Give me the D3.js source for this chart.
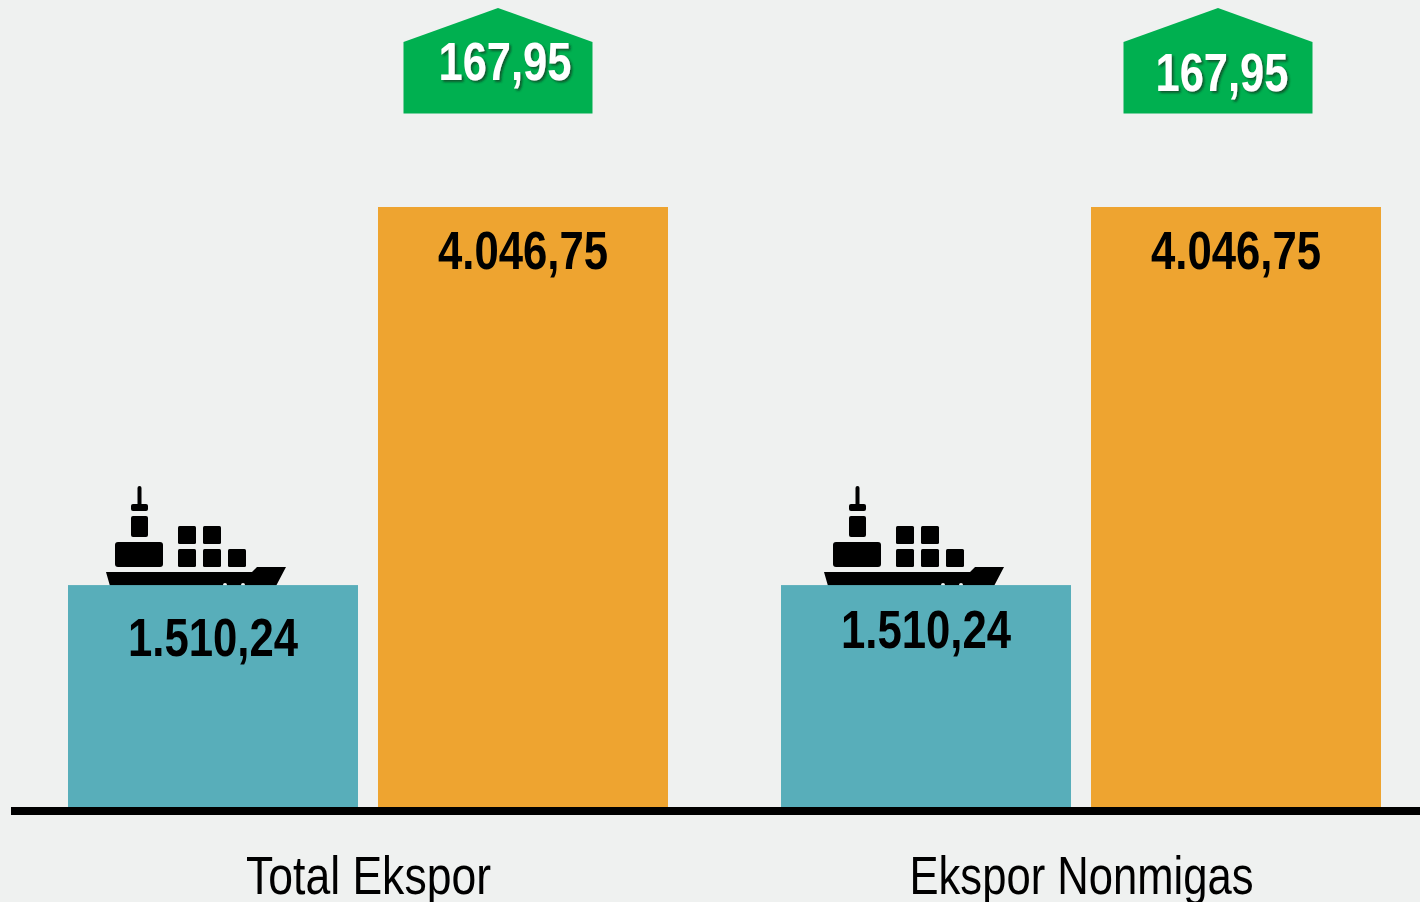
<!DOCTYPE html>
<html>
<head>
<meta charset="utf-8">
<script src="https://cdn.jsdelivr.net/npm/d3@7"></script>
<style>
   html, body { margin: 0; padding: 0; background: #eff1f0; }
   svg { display: block; }
   text { font-family: "Liberation Sans", sans-serif; }
</style>
</head>
<body>
<svg id="chart"></svg>
<script>
"use strict";

const categories = ['Total Ekspor', 'Ekspor Nonmigas']
const series = ['first', 'second']
const first_values = [1510.24, 1510.24]
const second_values = [4046.75, 4046.75]
const change_values = [167.95, 167.95]

const width = 1420
const height = 902
const base_y = 807
const bg = '#eff1f0'

// the labels don't sit at the same height in both panels
const first_label_y = [656, 648]
const change_label_y = [80, 91]
const change_label_dx = [7, 4]
const ship_dx = [38, 43]

// no narrow font on the box, so text gets squeezed to the original width
const value_label_w = 170
const change_label_w = 133
const cat_label_w = [245, 344]

const id_format = d3.formatLocale({
   decimal: ',', thousands: '.', grouping: [3], currency: ['', '']
}).format(',.2f')

const svg = d3.select('#chart')
   .attr('width', width)
   .attr('height', height)

const defs = svg.append('defs')
const shadow = defs.append('filter')
   .attr('id', 'shadow')
   .attr('x', '-10%').attr('y', '-10%')
   .attr('width', '120%').attr('height', '130%')
shadow.append('feDropShadow')
   .attr('dx', 2)
   .attr('dy', 2)
   .attr('stdDeviation', 1)
   .attr('flood-color', '#0b3d22')
   .attr('flood-opacity', 0.75)

const x_group = d3.scaleBand()
   .domain(categories)
   .range([68, 1381])
   .paddingInner(0.1585)

const x_bar = d3.scaleBand()
   .domain(series)
   .range([0, x_group.bandwidth()])
   .paddingInner(0.0645)

const y = d3.scaleLinear()
   .domain([0, 4046.75])
   .range([base_y, 207])

function draw_ship(g) {
   g.append('rect').attr('x', 31.5).attr('y', 486).attr('width', 4).attr('height', 20).attr('rx', 2)
   g.append('rect').attr('x', 25).attr('y', 504).attr('width', 17).attr('height', 7).attr('rx', 2)
   g.append('rect').attr('x', 25).attr('y', 516).attr('width', 17).attr('height', 21).attr('rx', 2)
   g.append('rect').attr('x', 9).attr('y', 542).attr('width', 48).attr('height', 25).attr('rx', 3)
   const boxes = [[72, 526], [97, 526], [72, 549], [97, 549], [122, 549]]
   g.selectAll('rect.box')
      .data(boxes)
      .enter().append('rect')
         .attr('class', 'box')
         .attr('x', d => d[0])
         .attr('y', d => d[1])
         .attr('width', 18)
         .attr('height', 18)
         .attr('rx', 1.5)
   g.append('path')
      .attr('d', 'M0,572 L146,572 L151,567 L180,567 L170,586 L4,586 Z')
   g.selectAll('circle')
      .data([119, 137])
      .enter().append('circle')
         .attr('cx', d => d)
         .attr('cy', 585)
         .attr('r', 2)
         .attr('fill', bg)
}

function bold_label(g, x, ypos, w, txt, fill) {
   return g.append('text')
      .attr('x', x)
      .attr('y', ypos)
      .attr('text-anchor', 'middle')
      .attr('font-size', 53)
      .attr('font-weight', 'bold')
      .attr('textLength', w)
      .attr('lengthAdjust', 'spacingAndGlyphs')
      .attr('fill', fill)
      .text(txt)
}

categories.forEach((cat, i) => {
   const g = svg.append('g')
      .attr('transform', `translate(${x_group(cat)},0)`)

   draw_ship(g.append('g')
      .attr('transform', `translate(${ship_dx[i]},0)`)
      .attr('fill', '#000'))

   g.append('rect')
      .attr('x', x_bar('first'))
      .attr('y', y(first_values[i]) + 2)
      .attr('width', x_bar.bandwidth())
      .attr('height', base_y - y(first_values[i]) - 2)
      .attr('fill', '#58aeba')

   g.append('rect')
      .attr('x', x_bar('second'))
      .attr('y', y(second_values[i]))
      .attr('width', x_bar.bandwidth())
      .attr('height', base_y - y(second_values[i]))
      .attr('fill', '#eea430')

   bold_label(g, x_bar('first') + x_bar.bandwidth() / 2, first_label_y[i],
      value_label_w, id_format(first_values[i]), '#000')

   bold_label(g, x_bar('second') + x_bar.bandwidth() / 2, 269,
      value_label_w, id_format(second_values[i]), '#000')

   // green up arrow, centred a little left of the second bar's middle
   const ax = x_bar('second') + x_bar.bandwidth() / 2 + (i === 0 ? -25 : -18)
   g.append('path')
      .attr('d', `M${ax - 94.5},42 L${ax},8 L${ax + 94.5},42 L${ax + 94.5},113.5 L${ax - 94.5},113.5 Z`)
      .attr('fill', '#00b050')

   bold_label(g, ax + change_label_dx[i], change_label_y[i],
      change_label_w, id_format(change_values[i]), '#fff')
      .attr('filter', 'url(#shadow)')
})

svg.append('rect')
   .attr('x', 11)
   .attr('y', base_y)
   .attr('width', width - 11)
   .attr('height', 8)
   .attr('fill', '#000')

svg.selectAll('text.cat')
   .data(categories)
   .enter().append('text')
      .attr('class', 'cat')
      .attr('x', (d, i) => [368.5, 1081.5][i])
      .attr('y', 893.5)
      .attr('text-anchor', 'middle')
      .attr('font-size', 53)
      .attr('textLength', (d, i) => cat_label_w[i])
      .attr('lengthAdjust', 'spacingAndGlyphs')
      .attr('fill', '#000')
      .text(d => d)
</script>
</body>
</html>
